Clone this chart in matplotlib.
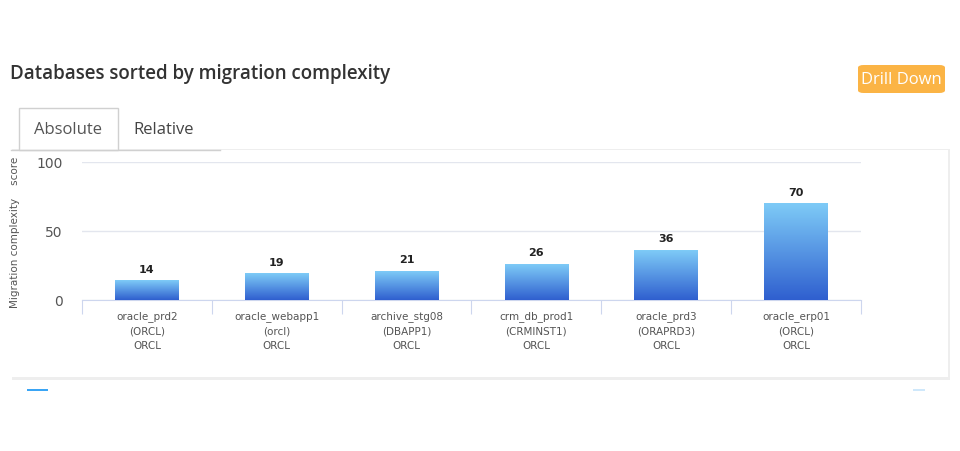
import matplotlib
matplotlib.use("Agg")
import matplotlib.pyplot as plt
import numpy as np
from matplotlib.patches import FancyBboxPatch, Rectangle
from matplotlib.lines import Line2D
from matplotlib.colors import LinearSegmentedColormap

names = ["oracle_prd2", "oracle_webapp1", "archive_stg08", "crm_db_prod1", "oracle_prd3", "oracle_erp01"]
instances = ["(ORCL)", "(orcl)", "(DBAPP1)", "(CRMINST1)", "(ORAPRD3)", "(ORCL)"]
dbs = ["ORCL", "ORCL", "ORCL", "ORCL", "ORCL", "ORCL"]
scores = [14, 19, 21, 26, 36, 70]
yticks = [0, 50, 100]

W, H = 960, 452
fig = plt.figure(figsize=(9.6, 4.52), dpi=100)
fig.patch.set_facecolor("white")

def fx(px): return px / W
def fy(py): return 1 - py / H

# card with shadow
fig.patches.append(Rectangle((fx(12), fy(381)), fx(938), (381-150)/H, transform=fig.transFigure,
                             facecolor="#eeeeee", edgecolor="none", zorder=-3))
fig.patches.append(Rectangle((fx(11), fy(378)), fx(937), (378-151)/H, transform=fig.transFigure,
                             facecolor="white", edgecolor="none", zorder=-2))
# tabs
fig.lines.append(Line2D([fx(11), fx(220)], [fy(151), fy(151)], transform=fig.transFigure, color="#d0d0d0", lw=1))
fig.patches.append(Rectangle((fx(19), fy(151)), fx(99), (151-109)/H, transform=fig.transFigure,
                             facecolor="white", edgecolor="#d0d0d0", lw=1, zorder=1))
fig.text(fx(68), fy(130), "Absolute", ha="center", va="center", fontsize=12, color="#555555", family="Open Sans")
fig.text(fx(164), fy(130), "Relative", ha="center", va="center", fontsize=12, color="#444444", family="Open Sans")
# title
fig.text(fx(10), fy(74), "Databases sorted by migration complexity", ha="left", va="center",
         fontsize=13.5, color="#333333", family="Open Sans", fontweight="semibold")
# button
fig.patches.append(FancyBboxPatch((fx(858), fy(94)), fx(87), (94-66)/H, boxstyle="round,pad=0,rounding_size=0.006",
                                  transform=fig.transFigure, facecolor="#fbb445", edgecolor="none"))
fig.text(fx(901), fy(80), "Drill Down", ha="center", va="center", fontsize=12, color="white", family="Open Sans")
# small markers at bottom
fig.patches.append(Rectangle((fx(27), fy(392)), fx(21), 2.5/H, transform=fig.transFigure, facecolor="#3aa5f5", edgecolor="none"))
fig.patches.append(Rectangle((fx(913), fy(392)), fx(12), 2.5/H, transform=fig.transFigure, facecolor="#cfe8fb", edgecolor="none"))

ax = fig.add_axes([fx(82), fy(301), (861-82)/W, (301-163)/H])
ax.set_facecolor("none")
x = np.arange(len(scores))
bw = 0.49
grad = np.linspace(0, 1, 256).reshape(-1, 1)
cmap = LinearSegmentedColormap.from_list("g", ["#2f5fcf", "#7ecbf7"])
for xi, v in zip(x, scores):
    ax.imshow(grad, extent=[xi - bw/2, xi + bw/2, 0, v], origin="lower", aspect="auto", cmap=cmap, zorder=3)
    ax.text(xi, v + 5, str(v), ha="center", va="bottom", fontsize=8, fontweight="bold", color="#222222")
ax.set_xlim(-0.5, len(scores) - 0.5)
ax.set_ylim(0, 100)
ax.set_aspect("auto")
ax.set_yticks(yticks)
ax.yaxis.grid(True, color="#e3e6ee", lw=1)
ax.set_axisbelow(True)
for s in ["top", "right", "left"]:
    ax.spines[s].set_visible(False)
ax.spines["bottom"].set_color("#cdd6ee")
ax.tick_params(axis="y", length=0, labelsize=10, colors="#555555", pad=14)
ax.set_xticks(np.arange(-0.5, len(scores)))
ax.set_xticklabels([])
ax.tick_params(axis="x", length=10, color="#cdd6ee")
for xi, n, i, d in zip(x, names, instances, dbs):
    ax.text(xi, -7, f"{n}\n{i}\n{d}", ha="center", va="top", fontsize=7.5, color="#555555",
            linespacing=1.6, clip_on=False)
ax.set_ylabel("Migration complexity    score", fontsize=7.5, color="#555555", labelpad=12)

fig.savefig("out.png", dpi=100)
